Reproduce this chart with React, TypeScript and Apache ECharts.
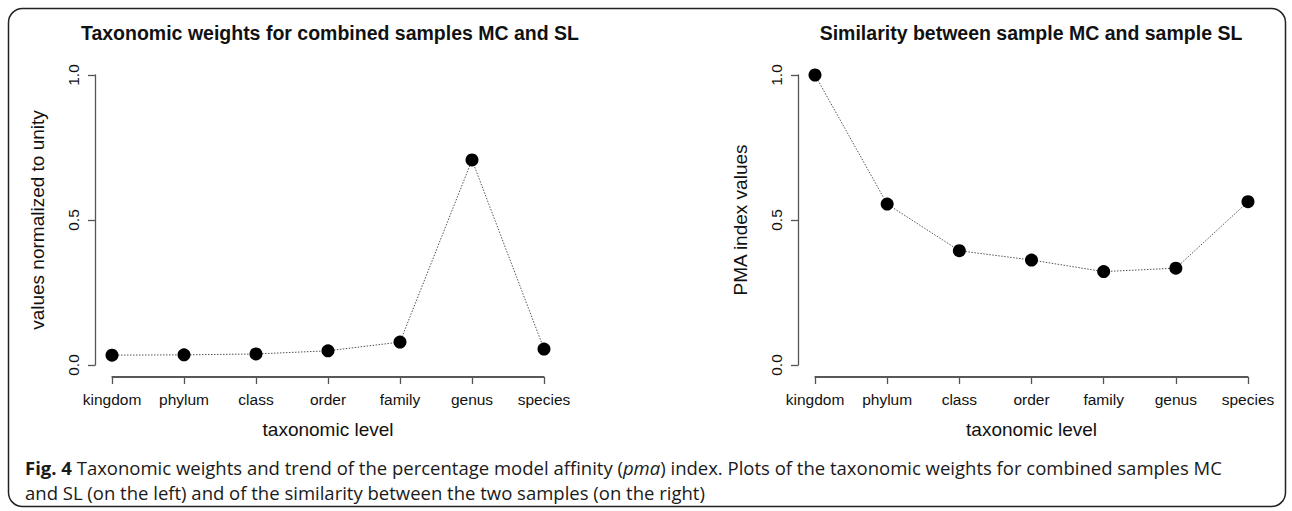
import React, { useEffect, useRef } from "react";
import * as echarts from "echarts";

const categories = ["kingdom", "phylum", "class", "order", "family", "genus", "species"];
const weightValues = [0.034, 0.035, 0.038, 0.049, 0.079, 0.707, 0.055];
const pmaValues = [1.0, 0.555, 0.394, 0.362, 0.322, 0.334, 0.563];
const yTicks = [0, 0.5, 1.0];

const leftTitle = "Taxonomic weights for combined samples MC and SL";
const rightTitle = "Similarity between sample MC and sample SL";
const xName = "taxonomic level";
const leftYName = "values normalized to unity";
const rightYName = "PMA index values";

const FONT = "Liberation Sans, Arial, Helvetica, sans-serif";
const AXIS_COLOR = "#555";
const X_OFFSET = 12;
const GRID_LEFT = [112, 815];
const GRID_WIDTH = [432, 433];
const GRID_TOP = 75;
const GRID_HEIGHT = 290;

function makeX(gridIndex: number) {
  return {
    type: "value",
    gridIndex,
    min: 0,
    max: categories.length - 1,
    interval: 1,
    offset: X_OFFSET,
    axisLine: { show: true, onZero: false, lineStyle: { color: AXIS_COLOR, width: 1.5, type: "solid" } },
    axisTick: { show: true, length: 7, lineStyle: { color: AXIS_COLOR, width: 1.3 } },
    axisLabel: {
      color: "#111",
      fontSize: 15.5,
      fontFamily: FONT,
      margin: 14,
      showMinLabel: true,
      showMaxLabel: true,
      formatter: (v: number) => categories[Math.round(v)] ?? "",
    },
    splitLine: { show: false },
    name: xName,
    nameLocation: "middle",
    nameGap: 43,
    nameTextStyle: { color: "#111", fontSize: 19, fontFamily: FONT },
  };
}

function makeY(gridIndex: number, name: string) {
  return {
    type: "value",
    gridIndex,
    min: yTicks[0],
    max: yTicks[yTicks.length - 1],
    interval: 0.5,
    offset: 17,
    axisLine: { show: true, onZero: false, lineStyle: { color: AXIS_COLOR, width: 1.3 } },
    axisTick: { show: true, length: 7, lineStyle: { color: AXIS_COLOR, width: 1.3 } },
    axisLabel: {
      color: "#111",
      fontSize: 15.5,
      fontFamily: FONT,
      rotate: 90,
      margin: 14,
      formatter: (v: number) => v.toFixed(1),
    },
    splitLine: { show: false },
    name,
    nameLocation: "middle",
    nameGap: 48,
    nameRotate: 90,
    nameTextStyle: { color: "#111", fontSize: 19, fontFamily: FONT },
  };
}

function makeSeries(values: number[], idx: number) {
  return {
    type: "line",
    xAxisIndex: idx,
    yAxisIndex: idx,
    data: values.map((v, i) => [i, v]),
    clip: false,
    symbol: "circle",
    symbolSize: 13,
    itemStyle: { color: "#000" },
    lineStyle: { color: "#555", width: 1, type: [1.5, 1.5] },
    z: 3,
  };
}

export default function App() {
  const ref = useRef<HTMLDivElement>(null);
  useEffect(() => {
    if (!ref.current) return;
    const chart = echarts.init(ref.current, undefined, { renderer: "svg" });
    const capStyle = { fontFamily: "Open Sans", fontSize: 18.5, fill: "#1a1a1a" };
    const baseY = GRID_TOP + GRID_HEIGHT + X_OFFSET;
    const baselines: any[] = [];
    [0, 1].forEach((g) => {
      baselines.push({
        type: "line",
        shape: { x1: GRID_LEFT[g], y1: baseY, x2: GRID_LEFT[g] + GRID_WIDTH[g], y2: baseY },
        style: { stroke: AXIS_COLOR, lineWidth: 1.5 },
        silent: true,
        z: 20,
      });
      baselines.push({
        type: "rect",
        shape: { x: GRID_LEFT[g], y: baseY - 0.75, width: GRID_WIDTH[g], height: 1.5 },
        style: { fill: AXIS_COLOR, stroke: "none" },
        silent: true,
        z: 20,
      });
    });
    chart.setOption({
      animation: false,
      backgroundColor: "#fff",
      grid: [0, 1].map((g) => ({
        left: GRID_LEFT[g],
        top: GRID_TOP,
        width: GRID_WIDTH[g],
        height: GRID_HEIGHT,
        containLabel: false,
      })),
      xAxis: [makeX(0), makeX(1)],
      yAxis: [makeY(0, leftYName), makeY(1, rightYName)],
      series: [makeSeries(weightValues, 0), makeSeries(pmaValues, 1)],
      graphic: {
        elements: [
          {
            type: "rect",
            shape: { x: 8.5, y: 8.5, width: 1277, height: 498, r: 14 },
            style: { fill: "none", stroke: "#222", lineWidth: 1.5 },
            silent: true,
          },
          ...baselines,
          {
            type: "text",
            x: 330,
            y: 33,
            style: {
              text: leftTitle,
              font: `bold 19.5px ${FONT}`,
              fill: "#111",
              align: "center",
              verticalAlign: "middle",
            },
          },
          {
            type: "text",
            x: 1031,
            y: 33,
            style: {
              text: rightTitle,
              font: `bold 19.5px ${FONT}`,
              fill: "#111",
              align: "center",
              verticalAlign: "middle",
            },
          },
          {
            type: "text",
            x: 25,
            y: 467,
            style: {
              text:
                "{b|Fig. 4} {n|Taxonomic weights and trend of the percentage model affinity (}{i|pma}{n|) index. Plots of the taxonomic weights for combined samples MC}",
              verticalAlign: "middle",
              rich: {
                b: { ...capStyle, fontWeight: "bold" },
                n: { ...capStyle },
                i: { ...capStyle, fontStyle: "italic" },
              },
              font: "18.5px Open Sans",
              fill: "#1a1a1a",
            },
          },
          {
            type: "text",
            x: 25,
            y: 492,
            style: {
              text: "and SL (on the left) and of the similarity between the two samples (on the right)",
              font: "18.5px Open Sans",
              fill: "#1a1a1a",
              verticalAlign: "middle",
            },
          },
        ],
      },
    });
    return () => chart.dispose();
  }, []);
  return (
    <div
      ref={ref}
      style={{ position: "fixed", left: 0, top: 0, width: 1292, height: 511, background: "#fff" }}
    />
  );
}
